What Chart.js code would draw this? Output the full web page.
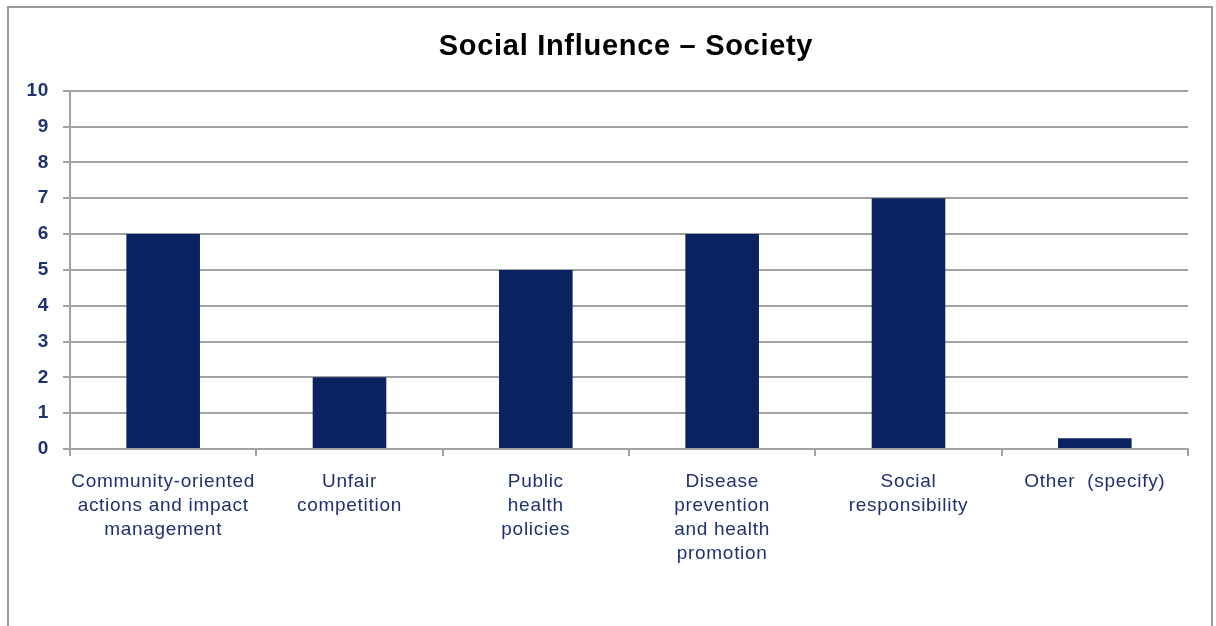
<!DOCTYPE html>
<html>
<head>
<meta charset="utf-8">
<script src="https://cdn.jsdelivr.net/npm/chart.js@4"></script>
<style>
  html, body { margin: 0; padding: 0; background: #fff; overflow: hidden; }
  #frame { position: absolute; left: 7px; top: 6px; width: 1206px; height: 640px; border: 2px solid #9a9a9a; box-sizing: border-box; }
  #wrap { position: absolute; left: 0; top: 0; width: 1216px; height: 626px; }
</style>
</head>
<body>
<div id="frame"></div>
<div id="wrap"><canvas id="c" width="1216" height="626"></canvas></div>
<script>
const chartTitle = 'Social Influence – Society';
const categories = [
  ['Community-oriented', 'actions and impact', 'management'],
  ['Unfair', 'competition'],
  ['Public', 'health', 'policies'],
  ['Disease', 'prevention', 'and health', 'promotion'],
  ['Social', 'responsibility'],
  ['Other  (specify)']
];
const counts = [6, 2, 5, 6, 7, 0.3];
const yMin = 0, yMax = 10, yStep = 1;

const navy = '#0B2260';
const labelColor = '#1F3170';
const gridColor = '#a2a2a2';
const fontFamily = 'Liberation Sans, Arial, sans-serif';

// Slightly widened lettering for all chart text
const spacing = {
  id: 'spacing',
  beforeUpdate(chart) { chart.ctx.letterSpacing = '0.7px'; },
  beforeDraw(chart) { chart.ctx.letterSpacing = '0.7px'; }
};

// Centre the title over the region right of the value axis labels
const titleShift = {
  id: 'titleShift',
  afterLayout(chart) {
    const t = chart.titleBlock;
    if (t) { t.left = 36; t.right = chart.width; }
  }
};

new Chart(document.getElementById('c'), {
  type: 'bar',
  data: {
    labels: categories,
    datasets: [{
      data: counts,
      backgroundColor: navy,
      borderWidth: 0,
      categoryPercentage: 1,
      barPercentage: 0.395
    }]
  },
  plugins: [spacing, titleShift],
  options: {
    responsive: false,
    animation: false,
    events: [],
    layout: { padding: { left: 0, right: 0, top: 14, bottom: 0 } },
    plugins: {
      legend: { display: false },
      tooltip: { enabled: false },
      title: {
        display: true,
        text: chartTitle,
        color: '#000',
        font: { family: fontFamily, size: 29, weight: 'bold' },
        padding: { top: 16, bottom: 26 }
      }
    },
    scales: {
      x: {
        offset: true,
        grid: { display: true, drawOnChartArea: false, drawTicks: true, tickLength: 7, color: gridColor, lineWidth: 2, offset: true },
        border: { display: true, color: gridColor, width: 2 },
        ticks: {
          color: labelColor,
          padding: 14,
          maxRotation: 0,
          autoSkip: false,
          font: { family: fontFamily, size: 19, lineHeight: 1.26 }
        },
        afterFit: (s) => { s.height = 177; }
      },
      y: {
        min: yMin,
        max: yMax,
        ticks: {
          stepSize: yStep,
          color: labelColor,
          padding: 14,
          font: { family: fontFamily, size: 19, weight: 'bold' }
        },
        grid: { color: gridColor, lineWidth: 2, tickLength: 7 },
        border: { display: true, color: gridColor, width: 2 },
        afterFit: (s) => { s.width = 70; }
      },
      yRight: {
        position: 'right',
        display: true,
        min: yMin,
        max: yMax,
        ticks: { display: false },
        grid: { display: false },
        border: { display: false },
        afterFit: (s) => { s.width = 28; }
      }
    }
  }
});
</script>
</body>
</html>
